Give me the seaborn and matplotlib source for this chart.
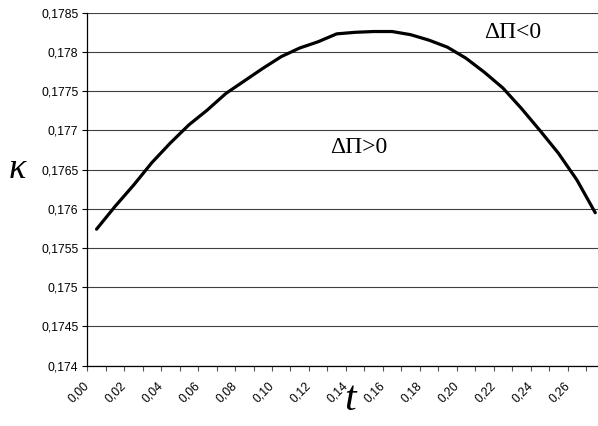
import matplotlib
matplotlib.use("Agg")
import matplotlib.pyplot as plt
import matplotlib.transforms as mtransforms
import seaborn as sns
import pandas as pd
import numpy as np

# ---- data ----
t_labels = ["0,00", "0,01", "0,02", "0,03", "0,04", "0,05", "0,06", "0,07", "0,08", "0,09",
            "0,10", "0,11", "0,12", "0,13", "0,14", "0,15", "0,16", "0,17", "0,18", "0,19",
            "0,20", "0,21", "0,22", "0,23", "0,24", "0,25", "0,26", "0,27"]
kappa = [0.17574, 0.17603, 0.17630, 0.17659, 0.17684, 0.17707, 0.17726, 0.17747,
         0.17763, 0.17779, 0.17794, 0.17805, 0.17813, 0.17823, 0.17825, 0.17826,
         0.17826, 0.17822, 0.17815, 0.17806, 0.17792, 0.17774, 0.17754, 0.17728,
         0.17700, 0.17671, 0.17637, 0.17595]
y_ticks = [0.174, 0.1745, 0.175, 0.1755, 0.176, 0.1765, 0.177, 0.1775, 0.178, 0.1785]
y_tick_labels = ["0,174", "0,1745", "0,175", "0,1755", "0,176", "0,1765", "0,177",
                 "0,1775", "0,178", "0,1785"]
label_every = 2
annotations = ["ΔΠ<0", "ΔΠ>0"]
annot_x = [22.55, 14.2]
annot_y = [0.17825, 0.17678]

df = pd.DataFrame({"idx": np.arange(len(kappa)), "kappa": kappa})

sns.set_style("white")
plt.rcParams["font.family"] = ["Liberation Sans", "DejaVu Sans"]
plt.rcParams["text.color"] = "black"
plt.rcParams["xtick.color"] = "black"
plt.rcParams["ytick.color"] = "black"

fig = plt.figure(figsize=(5.98, 4.26), dpi=100)
ax = fig.add_axes([87.3 / 598, 1 - 365.7 / 426, (604.5 - 87.3) / 598, (365.7 - 12.7) / 426])

sns.lineplot(data=df, x="idx", y="kappa", ax=ax, color="black", linewidth=2.3)

ax.set_xlim(-0.5, len(kappa) - 0.5)
ax.set_ylim(y_ticks[0], y_ticks[-1])

# y axis
ax.set_yticks(y_ticks)
ax.set_yticklabels(y_tick_labels, fontsize=8.8)
ax.yaxis.grid(True, color="#404040", linewidth=0.8)
ax.xaxis.grid(False)
ax.tick_params(axis="y", which="major", direction="out", length=3.5, width=0.8,
               color="black", labelcolor="black", pad=3, left=True)

# x axis: ticks between categories, labels on every second category
ax.set_xticks(np.arange(len(kappa) + 1) - 0.5)
ax.set_xticklabels([])
ax.tick_params(axis="x", which="major", direction="out", length=3.5, width=0.8,
               color="#555555", bottom=True)
lab_pos = np.arange(0, len(kappa) - 1, label_every)
ax.set_xticks(lab_pos, minor=True)
ax.set_xticklabels([t_labels[i] for i in lab_pos], minor=True, fontsize=8.8,
                   rotation=45, ha="right", va="center", rotation_mode="anchor")
ax.tick_params(axis="x", which="minor", length=0, pad=13, labelcolor="black")
off = mtransforms.ScaledTranslation(-9 / 100, 0, fig.dpi_scale_trans)
for lab in ax.get_xticklabels(minor=True):
    lab.set_transform(lab.get_transform() + off)

for side in ["top", "right"]:
    ax.spines[side].set_visible(False)
for side in ["left", "bottom"]:
    ax.spines[side].set_visible(True)
    ax.spines[side].set_color("black")
    ax.spines[side].set_linewidth(0.9)

ax.set_xlabel("")
ax.set_ylabel("")

# axis titles
fig.text(17 / 598, 1 - 170 / 426, "κ", fontsize=26, style="italic", color="black",
         family=["Liberation Serif", "DejaVu Serif"], ha="center", va="center")
fig.text(350 / 598, 1 - 400 / 426, "t", fontsize=30, style="italic", color="black",
         family=["Liberation Serif", "DejaVu Serif"], ha="center", va="center")

# annotations
for s, xv, yv in zip(annotations, annot_x, annot_y):
    ax.text(xv, yv, s, fontsize=17, color="black",
            family=["Liberation Serif", "DejaVu Serif"], ha="center", va="center")

fig.savefig("out.png", dpi=100)
